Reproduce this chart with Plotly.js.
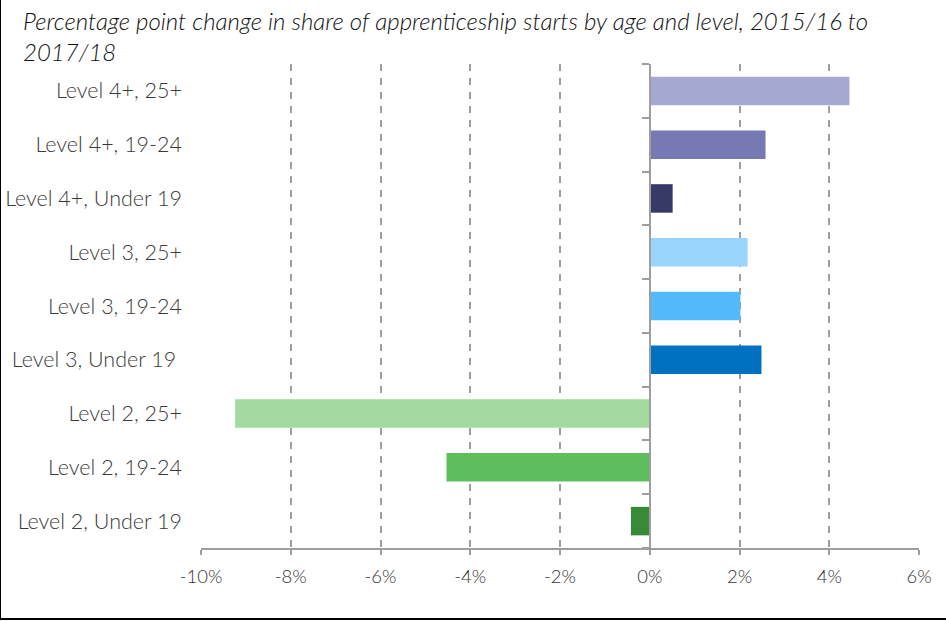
<!DOCTYPE html>
<html>
<head>
<meta charset="utf-8">
<script src="https://cdn.plot.ly/plotly-3.0.1.min.js"></script>
<style>
html,body{margin:0;padding:0;background:#fff;}
#wrap{position:absolute;left:0;top:0;width:945px;height:618px;border-left:1px solid #000;border-bottom:2px solid #000;}
#chart{width:945px;height:618px;}
</style>
</head>
<body>
<div id="wrap"><div id="chart"></div></div>
<script>
const categories = [
  "Level 2, Under 19", "Level 2, 19-24", "Level 2, 25+",
  "Level 3, Under 19\u00a0", "Level 3, 19-24", "Level 3, 25+",
  "Level 4+, Under 19", "Level 4+, 19-24", "Level 4+, 25+"
];
const values = [-0.42, -4.53, -9.24, 2.49, 2.02, 2.18, 0.51, 2.58, 4.45];
const colors = ["#368A38", "#5EBE5E", "#A4DAA1", "#0070C0", "#55BAF9", "#99D4FC", "#363A68", "#7679B4", "#A5A9D0"];
const tickVals = [-10, -8, -6, -4, -2, 0, 2, 4, 6];
const tickText = ["-10%", "-8%", "-6%", "-4%", "-2%", "0%", "2%", "4%", "6%"];
const titleText = "Percentage point change in share of apprenticeship starts by age and level, 2015/16 to<br>2017/18";

const fontFam = "Lato, 'Open Sans', sans-serif";
const zeroPos = (0 - (-10)) / (6 - (-10));

const data = [
  {
    type: "bar", orientation: "h",
    y: categories, x: values,
    marker: {color: colors},
    width: 0.53,
    hoverinfo: "x+y"
  },
  {
    type: "scatter", mode: "markers",
    y: categories, x: values.map(() => 0),
    yaxis: "y2",
    marker: {opacity: 0, size: 1},
    hoverinfo: "skip", showlegend: false
  }
];

const layout = {
  width: 945, height: 618,
  margin: {l: 200, r: 27, t: 64, b: 70},
  paper_bgcolor: "#fff", plot_bgcolor: "#fff",
  showlegend: false,
  font: {family: fontFam, color: "#3a3a3a", size: 17, weight: 300},
  title: {
    text: titleText,
    x: 0, xref: "container", xanchor: "left",
    y: 0.952, yref: "container", yanchor: "top",
    pad: {l: 22},
    font: {family: fontFam, size: 24, color: "#111", style: "italic", weight: 300}
  },
  xaxis: {
    range: [-10, 6],
    tickvals: tickVals, ticktext: tickText,
    showgrid: true, gridcolor: "#9e9e9e", gridwidth: 2, griddash: "7px,7px",
    zeroline: false,
    showline: true, linecolor: "#9e9e9e", linewidth: 2,
    ticks: "outside", ticklen: 5, tickcolor: "#9e9e9e", tickwidth: 2,
    ticklabelstandoff: 6,
    tickfont: {size: 18.5, color: "#333", weight: 300},
    fixedrange: true
  },
  yaxis: {
    type: "category",
    categoryorder: "array", categoryarray: categories,
    range: [-0.5, 8.5],
    showgrid: false, zeroline: false, showline: false,
    ticks: "", ticklabelstandoff: 18,
    tickfont: {size: 21.5, color: "#3a3a3a", weight: 300},
    fixedrange: true
  },
  yaxis2: {
    type: "category",
    categoryorder: "array", categoryarray: categories,
    range: [-0.5, 8.5],
    overlaying: "y", anchor: "free", position: zeroPos, side: "left",
    showline: true, linecolor: "#9e9e9e", linewidth: 2,
    ticks: "outside", tickson: "boundaries", ticklen: 7, tickcolor: "#9e9e9e", tickwidth: 2,
    showticklabels: false, showgrid: false, zeroline: false,
    fixedrange: true
  }
};

Plotly.newPlot("chart", data, layout, {displayModeBar: false, responsive: false});
</script>
</body>
</html>
